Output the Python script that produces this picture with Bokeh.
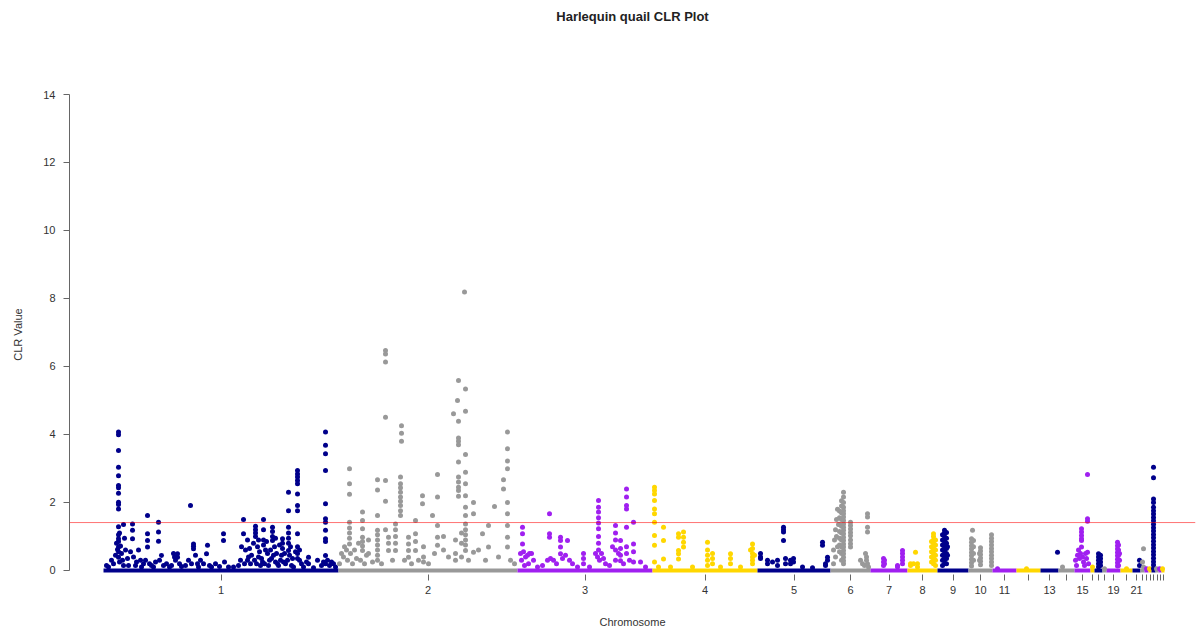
import numpy as np
from bokeh.plotting import figure
from bokeh.models import Range1d, FixedTicker, Span, LinearAxis
from bokeh.embed import file_html
from bokeh.resources import INLINE

# ---------------- data ----------------
chrom_names = [str(i) for i in range(1, 29)]
chrom_lengths = [235, 179, 135, 105, 73, 40, 37, 30, 31, 24, 24, 24, 18, 16,
                 16, 4, 8, 4, 14, 12, 8, 4, 4, 3, 4, 3, 3, 3]
shown_labels = ["1", "2", "3", "4", "5", "6", "7", "8", "9", "10", "11",
                "13", "15", "19", "21"]
y_ticks = [0, 2, 4, 6, 8, 10, 12, 14]
threshold = 1.41
title_text = "Harlequin quail CLR Plot"

# (position within chromosome, [CLR values at that position])
chr1_pts = [(3, [0.15]), (5, [0.1]), (8, [0.3]), (10, [0.2]), (12, [0.45]), (13, [0.8]), (14, [0.62]),
            (15, [4.07, 3.99, 3.53, 3.04, 2.79, 2.5, 2.43, 2.27, 2.01, 1.94, 1.81, 1.29, 1.05, 0.93, 0.85, 0.69, 0.55, 0.39]),
            (16, [1.1, 0.25]), (17, [0.72]), (18, [0.5]), (19, [0.3]), (20, [1.35, 0.15]), (21, [0.95]), (22, [0.6]),
            (24, [0.35]), (25, [0.15]), (27, [0.55]), (29, [1.37, 1.18, 0.93]), (30, [0.4]), (32, [0.15]),
            (33, [0.25]), (35, [0.6]), (37, [0.3]), (38, [0.1]), (40, [0.2]), (42, [0.3]),
            (44, [1.62, 1.08, 0.88, 0.69]), (46, [0.2]), (48, [0.15]), (50, [0.1]), (52, [0.25]),
            (55, [1.42, 1.13, 0.86]), (56, [0.3]), (58, [0.44]), (60, [0.15]), (63, [0.2]), (66, [0.1]),
            (68, [0.15]), (70, [0.5]), (71, [0.4]), (72, [0.3]), (74, [0.49, 0.39]), (76, [0.2]), (78, [0.12]),
            (82, [0.15]), (85, [0.3]), (87, [1.91]), (88, [0.2]), (90, [0.78, 0.71, 0.64]), (92, [0.45]),
            (94, [0.2]), (95, [0.1]), (97, [0.3]), (100, [0.2]), (103, [0.49]), (104, [0.74]), (106, [0.15]),
            (108, [0.1]), (112, [0.2]), (116, [0.12]), (120, [1.08, 0.88]), (121, [0.25]), (125, [0.1]),
            (130, [0.1]), (135, [0.15]), (137, [0.3]), (138, [0.7]), (140, [1.5, 1.08]), (141, [0.2]),
            (142, [0.6]), (144, [0.9, 0.3]), (145, [0.4]), (146, [0.65]), (147, [0.2]), (148, [0.45]),
            (150, [0.8]), (151, [0.3]), (152, [1.3, 1.2, 1.1, 1.0]), (153, [0.2]), (154, [0.7]),
            (155, [0.9, 0.4]), (156, [0.55]), (157, [0.15]), (158, [0.35]), (159, [0.25]),
            (160, [1.5, 1.2, 0.9, 0.75]), (161, [0.2]), (162, [0.6]), (163, [0.85]), (164, [0.5]), (165, [0.15]),
            (166, [0.3]), (167, [0.6]), (168, [0.35]), (169, [1.27, 1.15, 1.0, 0.88]), (170, [0.45]), (171, [0.7]),
            (172, [0.95, 0.25]), (173, [0.5]), (174, [0.2]), (175, [0.15]), (176, [0.75]), (177, [0.3]),
            (178, [0.45]), (179, [0.93, 0.8, 0.65]), (180, [0.25]), (181, [0.5]), (182, [0.2]), (184, [0.3]),
            (185, [2.3, 1.76, 1.27, 1.1, 0.95, 0.8, 0.59]), (186, [0.45]), (187, [0.7]), (188, [0.15]),
            (189, [0.35]), (190, [0.1]), (192, [0.55]),
            (194, [2.94, 2.84, 2.75, 2.65, 2.55, 2.25, 1.91, 1.76, 1.08, 0.7, 0.5, 0.35]),
            (196, [0.3, 0.6]), (198, [0.2]), (200, [0.1]), (203, [0.25]), (205, [0.39, 0.2]), (210, [0.08]),
            (214, [0.3]), (218, [0.15]), (220, [0.25]),
            (222, [4.07, 3.68, 3.43, 2.94, 1.96, 1.52, 1.42, 1.18, 0.93, 0.85, 0.44, 0.2]),
            (224, [0.3]), (226, [0.15]), (228, [0.25]), (230, [0.2]), (232, [0.1])]
chr2_pts = [(1, [0.2]), (3, [0.5]), (5, [0.4]), (6, [0.7]), (8, [0.6]), (9, [0.3]),
            (11, [2.99, 2.55, 2.24, 1.42, 1.25, 1.1, 0.95, 0.78]),
            (12, [0.5]), (14, [0.2]), (16, [0.6]), (18, [0.35]), (20, [0.8]), (22, [0.3]),
            (24, [1.72, 1.47, 1.23, 0.98, 0.85, 0.72, 0.59]),
            (26, [0.2]), (28, [0.45]), (30, [0.9, 0.5]), (34, [0.25]),
            (39, [2.67, 2.37, 1.62, 1.18, 1.05, 0.9, 0.75, 0.6, 0.45, 0.3]),
            (43, [0.2]), (47, [6.47, 6.37, 6.13, 4.51, 2.65, 2.04, 1.2]), (50, [0.98, 0.8, 0.59]), (54, [0.3]),
            (57, [1.37, 1.2, 1.0, 0.8, 0.59]), (62, [2.75, 2.55, 2.43, 2.3, 2.16, 2.04, 1.91, 1.76, 1.62]),
            (63, [4.26, 4.04, 3.8]), (66, [0.3]), (70, [0.98, 0.78, 0.59, 0.39]), (73, [0.2]),
            (77, [1.47, 1.08, 0.85, 0.59]), (80, [0.3]), (84, [2.2, 1.96]), (85, [0.7, 0.4, 0.25]), (90, [0.2]),
            (94, [1.62]), (96, [0.5]), (99, [2.82, 2.16, 1.32, 0.98, 0.74]), (105, [1.0, 0.6]), (110, [0.4]),
            (115, [4.61]), (117, [0.9, 0.5, 0.3]), (119, [5.0]),
            (120, [5.59, 4.39, 3.9, 3.8, 3.7, 3.19, 2.75, 2.6, 2.45, 2.35, 2.18]), (123, [1.1, 0.8, 0.4]),
            (126, [8.19]), (127, [5.34, 4.68, 3.41, 2.89, 2.55, 2.2, 1.86, 1.62, 1.37, 1.2, 1.05, 0.9, 0.75, 0.59]),
            (130, [0.3]), (135, [2.0, 1.67, 0.54]), (140, [0.6]), (144, [1.08]), (147, [0.3]), (150, [1.32, 0.69]),
            (156, [1.88]), (160, [0.4]), (165, [2.67, 2.4]), (169, [4.07, 3.58, 3.22, 2.99, 2.0, 1.67, 1.32, 0.98, 0.69]),
            (172, [0.3]), (176, [0.2])]
chr3_pts = [(3, [0.5]), (4, [0.3]), (5, [1.27, 1.08, 0.78]), (6, [0.55]), (7, [0.15]), (8, [0.4]), (10, [0.45]),
            (11, [0.2]), (12, [0.5]), (14, [0.5]), (16, [0.3]), (20, [0.1]), (25, [0.15]), (30, [0.3]),
            (32, [1.67, 1.08, 0.98]), (33, [0.35]), (36, [0.3]), (39, [0.2]), (43, [0.98, 0.88, 0.69, 0.49]),
            (45, [0.35]), (48, [0.45]), (50, [0.88]), (52, [0.3]), (55, [0.2]), (60, [0.1]), (66, [0.5, 0.35, 0.2]),
            (72, [0.1]), (78, [0.5]), (80, [0.4]), (81, [2.06, 1.86, 1.72, 1.55, 1.4, 1.23, 1.0, 0.8, 0.6]),
            (82, [0.3]), (84, [0.5]), (86, [0.35]), (88, [0.2]), (92, [0.15]), (95, [0.7]),
            (98, [1.32, 1.1, 0.9, 0.6, 0.3]), (101, [0.5]), (103, [0.88, 0.65, 0.45, 0.29]), (106, [0.2]),
            (109, [2.4, 2.16, 1.91, 1.81, 1.27, 0.7, 0.5]), (112, [0.3]), (116, [1.42, 0.78, 0.55, 0.25]),
            (123, [0.25]), (128, [0.1])]
chr4_pts = [(2, [2.45, 2.35, 2.25, 2.06, 1.81, 1.67, 1.42, 1.03, 0.74, 0.25]), (6, [0.1]), (11, [1.27, 0.88, 0.34]),
            (18, [0.1]), (26, [1.08, 0.98, 0.59, 0.49, 0.34]), (31, [1.13, 0.98, 0.83, 0.69]), (40, [0.1]),
            (55, [0.83, 0.6, 0.45, 0.3, 0.15]), (60, [0.5, 0.35, 0.2]), (68, [0.1]), (78, [0.49, 0.35, 0.2]),
            (88, [0.1]), (98, [0.6]), (100, [0.78, 0.65, 0.5, 0.4, 0.3, 0.2]), (102, [0.45])]
chr5_pts = [(3, [0.5, 0.4, 0.35]), (10, [0.3, 0.2]), (15, [0.25]), (20, [0.3, 0.15]), (26, [1.27, 1.2, 1.13, 0.88]),
            (28, [0.35, 0.2]), (33, [0.3, 0.2]), (36, [0.35, 0.25]), (45, [0.1]), (55, [0.08]), (65, [0.83, 0.74]),
            (68, [0.2, 0.15]), (70, [0.39, 0.3])]
chr6_pts = [(3, [0.6, 0.2]), (4, [0.9]), (5, [1.2, 0.4]), (6, [1.5, 1.0]), (7, [1.8, 0.7]), (8, [1.35]),
            (9, [1.75, 1.55, 1.35, 1.15, 0.95, 0.75, 0.55]), (11, [2.05, 1.9, 1.7, 1.5, 1.3, 1.1, 0.9, 0.7, 0.5, 0.3]),
            (13, [2.3, 2.16, 2.0, 1.86, 1.76, 1.67, 1.57, 1.47, 1.37, 1.27, 1.18, 1.08, 0.98, 0.88, 0.78, 0.69,
                  0.59, 0.49, 0.39, 0.29, 0.2]),
            (20, [1.42, 1.32, 1.22, 1.12, 1.02, 0.9, 0.79, 0.69]), (30, [0.3]), (32, [0.2]), (34, [0.15]),
            (35, [0.5]), (36, [0.4, 0.3]), (37, [1.67, 1.57, 1.27, 1.13, 0.2]), (38, [0.1])]
chr7_pts = [(13, [0.35, 0.25, 0.15]), (14, [0.3, 0.2]), (27, [0.15, 0.1]), (32, [0.59, 0.5, 0.4, 0.3, 0.2])]
chr8_pts = [(3, [0.2, 0.15]), (6, [0.2]), (8, [0.54]), (10, [0.2, 0.1]), (24, [0.85, 0.7, 0.55, 0.4, 0.25]),
            (26, [1.08, 1.0, 0.9, 0.8, 0.7, 0.6, 0.5, 0.4, 0.3, 0.2]), (28, [0.9, 0.75, 0.6, 0.45, 0.3, 0.15])]
chr9_pts = [(5, [1.05, 0.9, 0.75, 0.6, 0.45, 0.3, 0.15]),
            (7, [1.18, 1.1, 1.0, 0.9, 0.8, 0.7, 0.6, 0.5, 0.4, 0.3, 0.2]),
            (9, [1.12, 0.95, 0.8, 0.65, 0.5, 0.35, 0.2]), (10, [0.7, 0.45])]
chr10_pts = [(3, [0.93, 0.83, 0.73, 0.63, 0.53, 0.43, 0.33, 0.23, 0.13]), (4, [1.18]), (5, [0.88, 0.7, 0.5, 0.3]),
             (11, [0.5, 0.3]), (12, [0.67, 0.57, 0.47, 0.37, 0.27, 0.17]),
             (23, [1.05, 0.95, 0.85, 0.75, 0.65, 0.55, 0.45, 0.35, 0.25, 0.15])]
chr11_pts = [(5, [0.05])]
chr12_pts = [(10, [0.05])]
chr13_pts = [(17, [0.54])]
chr14_pts = [(4, [0.1])]
chr15_pts = [(1, [0.3]), (2, [0.15]), (3, [0.45]), (4, [0.6]), (5, [0.35]), (6, [0.5]),
             (7, [1.23, 1.13, 1.03, 0.93, 0.88, 0.69]), (8, [0.4]), (9, [0.25]), (10, [0.15]), (11, [0.5]),
             (12, [0.35]), (13, [2.82, 1.52, 1.45, 0.54]), (14, [0.2])]
chr16_pts = [(2, [0.1])]
chr17_pts = [(4, [0.49, 0.4, 0.3, 0.2, 0.1]), (5, [0.4, 0.3]), (6, [0.45, 0.35, 0.25, 0.15])]
chr18_pts = [(2, [0.05])]
chr19_pts = [(11, [0.83, 0.73, 0.63, 0.53, 0.43, 0.33, 0.23, 0.13]), (12, [0.75, 0.6, 0.45, 0.3, 0.15]),
             (13, [0.5, 0.3])]
chr20_pts = [(6, [0.05])]
chr21_pts = [(7, [0.3, 0.15])]
chr22_pts = [(2, [0.25]), (3, [0.1, 0.64])]
chr23_pts = [(2, [0.05])]
chr24_pts = [(1, [0.05])]
chr25_pts = [(2, [3.04, 2.73, 2.1, 2.0, 1.86, 1.76, 1.66, 1.56, 1.46, 1.36, 1.26, 1.16, 1.06, 0.96, 0.86,
                  0.76, 0.66, 0.56, 0.46, 0.36, 0.26, 0.16, 0.06])]
chr26_pts = [(1, [0.05])]
chr27_pts = [(1, [0.05])]
chr28_pts = [(1, [0.05])]

chrom_pts = [chr1_pts, chr2_pts, chr3_pts, chr4_pts, chr5_pts, chr6_pts, chr7_pts, chr8_pts, chr9_pts,
             chr10_pts, chr11_pts, chr12_pts, chr13_pts, chr14_pts, chr15_pts, chr16_pts, chr17_pts,
             chr18_pts, chr19_pts, chr20_pts, chr21_pts, chr22_pts, chr23_pts, chr24_pts, chr25_pts,
             chr26_pts, chr27_pts, chr28_pts]

# ---------------- styling ----------------
palette = ["#00008B", "#999999", "#A020F0", "#FFD700"]
FONT = "Liberation Sans"
TXT = "#333333"

lengths = np.array(chrom_lengths, dtype=float)
starts = np.concatenate([[0.0], np.cumsum(lengths)[:-1]])
centers = starts + lengths / 2.0
chrom_colors = [palette[i % 4] for i in range(len(chrom_names))]

xs, ys, cs = [], [], []
for i, pts in enumerate(chrom_pts):
    for pos, vals in pts:
        for v in vals:
            xs.append(starts[i] + pos)
            ys.append(v)
            cs.append(chrom_colors[i])

p = figure(width=1201, height=631, output_backend="svg", toolbar_location=None, title=None,
           x_range=Range1d(-34, 1092), y_range=Range1d(-0.118, 14),
           min_border_left=69, min_border_right=6, min_border_top=94, min_border_bottom=57)
p.outline_line_color = None
p.xgrid.visible = False
p.ygrid.visible = False
p.background_fill_color = "white"
p.border_fill_color = "white"

# baseline of dense near-zero points per chromosome
p.segment(x0=starts, y0=[0] * len(starts), x1=starts + lengths, y1=[0] * len(starts),
          line_color=chrom_colors, line_width=4)
p.scatter(xs, ys, size=5, fill_color=cs, line_color=None)

p.add_layout(Span(location=threshold, dimension="width", line_color="red", line_width=1, line_alpha=0.55))

# axes
p.yaxis.ticker = FixedTicker(ticks=y_ticks)
p.yaxis.bounds = (0, 14)
p.xaxis.ticker = FixedTicker(ticks=[float(c) for c in centers])
p.xaxis.major_label_overrides = {float(c): (n if n in shown_labels else "")
                                 for c, n in zip(centers, chrom_names)}
for ax in (p.xaxis[0], p.yaxis[0]):
    ax.minor_tick_line_color = None
    ax.major_tick_in = 0
    ax.major_tick_out = 6
    ax.major_tick_line_color = "#666666"
    ax.axis_line_color = "#666666"
    ax.major_label_text_font = FONT
    ax.major_label_text_font_size = "11px"
    ax.major_label_text_color = TXT
    ax.axis_label_text_font = FONT
    ax.axis_label_text_font_size = "11px"
    ax.axis_label_text_font_style = "normal"
    ax.axis_label_text_color = TXT
p.xaxis.axis_line_color = None
p.xaxis.major_label_standoff = 5
p.yaxis.major_label_standoff = 8
p.xaxis.axis_label = "Chromosome"
p.yaxis.axis_label = "CLR Value"
p.xaxis.axis_label_standoff = 19
p.yaxis.axis_label_standoff = 16

# title: carried by a bare axis above the frame, centred over the frame
title_axis = LinearAxis(ticker=FixedTicker(ticks=[]), axis_line_color=None,
                        major_tick_line_color=None, minor_tick_line_color=None,
                        axis_label=title_text, axis_label_standoff=71,
                        axis_label_text_font=FONT, axis_label_text_font_size="13px",
                        axis_label_text_font_style="bold", axis_label_text_color="#222222")
p.add_layout(title_axis, "above")

open("out.html", "w").write(file_html(p, INLINE))
